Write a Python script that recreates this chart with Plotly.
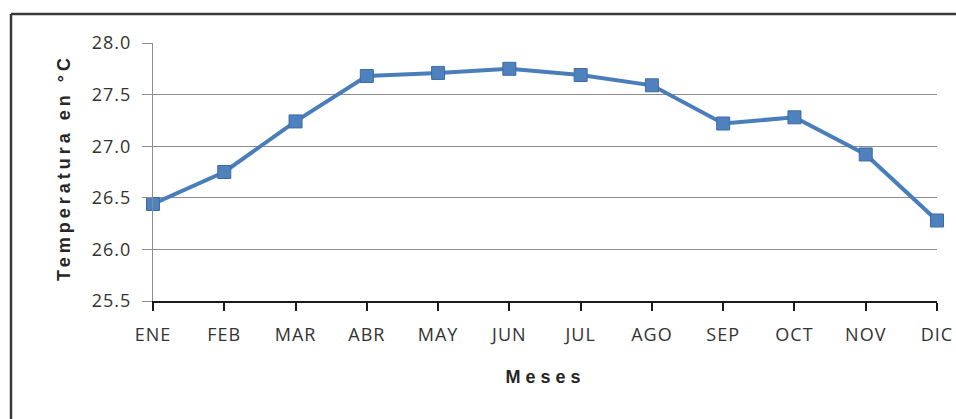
import plotly.graph_objects as go

# Monthly mean temperature
meses = ["ENE", "FEB", "MAR", "ABR", "MAY", "JUN", "JUL", "AGO", "SEP", "OCT", "NOV", "DIC"]
temperatura = [26.44, 26.75, 27.24, 27.68, 27.71, 27.75, 27.69, 27.59, 27.22, 27.28, 26.92, 26.28]
y_ticks = [25.5, 26.0, 26.5, 27.0, 27.5, 28.0]
y_tick_text = ["25.5", "26.0", "26.5", "27.0", "27.5", "28.0"]

W, H = 956, 419
L, R, T, B = 153, 19, 43, 118
pw = W - L - R
ph = H - T - B

fig = go.Figure()
fig.add_trace(go.Scatter(
    x=list(range(len(meses))),
    y=temperatura,
    mode="lines+markers",
    line=dict(color="#4a7ebb", width=4),
    marker=dict(symbol="square", size=13, color="#4f81bd",
                line=dict(color="#3b6ba5", width=1)),
    cliponaxis=False,
    showlegend=False,
))

tick_font = dict(family="Open Sans", size=18, color="#333333")

fig.update_layout(
    width=W, height=H,
    margin=dict(l=L, r=R, t=T, b=B, pad=0),
    paper_bgcolor="white",
    plot_bgcolor="white",
    xaxis=dict(
        range=[0, len(meses) - 1],
        automargin=False,
        tickmode="array",
        tickvals=list(range(len(meses))),
        ticktext=meses,
        showgrid=False,
        zeroline=False,
        showline=True, linecolor="#1a1a1a", linewidth=1.5,
        ticks="outside", ticklen=8, tickwidth=1.5, tickcolor="#1a1a1a",
        tickfont=tick_font,
        ticklabelstandoff=9,
    ),
    yaxis=dict(
        range=[25.5, 28.0],
        automargin=False,
        tickmode="array",
        tickvals=y_ticks,
        ticktext=y_tick_text,
        showgrid=True, gridcolor="#8c8c8c", gridwidth=1,
        zeroline=False,
        showline=True, linecolor="#8c8c8c", linewidth=1,
        ticks="outside", ticklen=10, tickwidth=1, tickcolor="#8c8c8c",
        tickfont=tick_font,
        ticklabelstandoff=7,
    ),
)

# Axis titles
title_font = dict(family="Liberation Sans", size=18, color="#262626")
fig.add_annotation(
    text="<b>Meses</b>", xref="paper", yref="paper",
    x=(545 - L) / pw, y=(H - B - 377) / ph,
    showarrow=False, font=title_font, xanchor="center", yanchor="middle",
)
fig.add_annotation(
    text="<b>Temperatura en °C</b>", xref="paper", yref="paper",
    x=(64 - L) / pw, y=(H - B - 168) / ph,
    showarrow=False, font=title_font, textangle=-90,
    xanchor="center", yanchor="middle",
)

# Frame around the chart (top and left edges)
frame_x0 = (11 - L) / pw
frame_y1 = (H - B - 14) / ph
fig.add_shape(type="line", xref="paper", yref="paper",
              x0=frame_x0, x1=2, y0=frame_y1, y1=frame_y1,
              line=dict(color="#3a3a3a", width=2.5))
fig.add_shape(type="line", xref="paper", yref="paper",
              x0=frame_x0, x1=frame_x0, y0=frame_y1, y1=-2,
              line=dict(color="#3a3a3a", width=2.5))

spacing_js = """
document.querySelectorAll('.annotation-text').forEach(function(t){
  t.style.letterSpacing = (t.textContent === 'Meses') ? '5px' : '4px';
});
document.querySelectorAll('.xtick text, .ytick text').forEach(function(t){
  t.style.letterSpacing = '1px';
});
"""

fig.write_html("out.html", post_script=spacing_js)
